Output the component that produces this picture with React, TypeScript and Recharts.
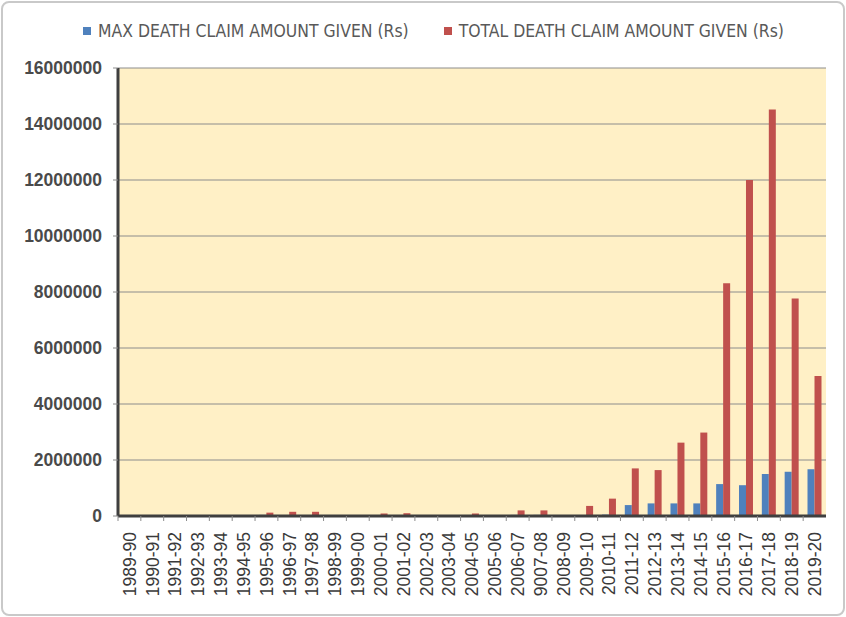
import React from 'react';
import {
  BarChart,
  Bar,
  XAxis,
  YAxis,
  CartesianGrid,
  Legend,
} from 'recharts';

const years = [
  '1989-90', '1990-91', '1991-92', '1992-93', '1993-94', '1994-95', '1995-96',
  '1996-97', '1997-98', '1998-99', '1999-00', '2000-01', '2001-02', '2002-03',
  '2003-04', '2004-05', '2005-06', '2006-07', '9007-08', '2008-09', '2009-10',
  '2010-11', '2011-12', '2012-13', '2013-14', '2014-15', '2015-16', '2016-17',
  '2017-18', '2018-19', '2019-20',
];

const maxClaim = [
  0, 0, 0, 0, 0, 0, 40000,
  30000, 30000, 0, 0, 30000, 30000, 0,
  0, 30000, 15000, 40000, 40000, 15000, 30000,
  50000, 390000, 450000, 450000, 450000, 1140000, 1100000,
  1500000, 1580000, 1670000,
];

const totalClaim = [
  0, 0, 0, 0, 0, 0, 120000,
  150000, 150000, 0, 0, 90000, 100000, 0,
  0, 90000, 30000, 200000, 200000, 30000, 360000,
  620000, 1700000, 1640000, 2620000, 2980000, 8310000, 12000000,
  14520000, 7770000, 5000000,
];

const yTicks = [0, 2000000, 4000000, 6000000, 8000000, 10000000, 12000000, 14000000, 16000000];

const seriesNames = ['MAX DEATH CLAIM AMOUNT GIVEN (Rs)', 'TOTAL DEATH CLAIM AMOUNT GIVEN (Rs)'];
const BLUE = '#4F81BD';
const RED = '#C0504D';
const FRAME = '#3f3f3f';

const data = years.map((year, i) => ({
  year,
  max: maxClaim[i],
  total: totalClaim[i],
}));

const tickFont = '"Liberation Sans", Arial, sans-serif';

const YearTick = (props: any) => {
  const { x, y, payload } = props;
  const off = payload && payload.offset ? payload.offset : 0;
  const axisY = y - 16;
  return (
    <g>
      {off ? (
        <line x1={x - off} y1={axisY} x2={x - off} y2={axisY + 5} stroke="#8c8c8c" />
      ) : null}
      <g transform={`translate(${x},${y})`}>
        <text
          transform="rotate(-90)"
          textAnchor="end"
          dy="0.36em"
          fill="#3a3a3a"
          fontSize={17.5}
          fontFamily={tickFont}
        >
          {payload.value}
        </text>
      </g>
    </g>
  );
};

const LegendBox = () => (
  <div
    style={{
      display: 'flex',
      justifyContent: 'flex-start',
      alignItems: 'center',
      fontFamily: '"Liberation Sans Narrow", "DejaVu Sans Condensed", Arial, sans-serif',
      fontSize: 17.4,
      color: '#595959',
      paddingLeft: 83,
    }}
  >
    {seriesNames.map((name, i) => (
      <span key={name} style={{ display: 'flex', alignItems: 'center', marginRight: i === 0 ? 35 : 0 }}>
        <span style={{ width: 8, height: 8, background: i === 0 ? BLUE : RED, marginRight: 7 }} />
        {name}
      </span>
    ))}
  </div>
);

export default function App() {
  return (
    <div style={{ position: 'absolute', left: 0, top: 0, width: 846, height: 617, background: '#fff' }}>
      <div
        style={{
          position: 'absolute',
          left: 1,
          top: 1,
          width: 844,
          height: 615,
          boxSizing: 'border-box',
          border: '2px solid #c9c9c9',
          borderRadius: 8,
        }}
      />
      <BarChart
        width={846}
        height={617}
        data={data}
        margin={{ top: 68, right: 20, bottom: 0, left: 0 }}
        barGap={0}
        barCategoryGap="19%"
        style={{ position: 'absolute', left: 0, top: 0 }}
      >
        <CartesianGrid vertical={false} stroke="#8c8c8c" fill="#FFF0C6" fillOpacity={1} />
        <XAxis
          dataKey="year"
          interval={0}
          height={101}
          tickLine={false}
          tickMargin={10}
          axisLine={{ stroke: FRAME, strokeWidth: 3 }}
          tick={<YearTick />}
        />
        <XAxis
          xAxisId="top"
          dataKey="year"
          orientation="top"
          height={0}
          tick={false}
          tickLine={false}
          axisLine={{ stroke: FRAME, strokeWidth: 3 }}
        />
        <YAxis
          width={118}
          domain={[0, 16000000]}
          ticks={yTicks}
          interval={0}
          tickSize={5}
          tickMargin={11}
          tickLine={{ stroke: '#8c8c8c' }}
          axisLine={{ stroke: FRAME, strokeWidth: 3 }}
          tick={{ fill: '#4a4a4a', fontSize: 17.5, fontWeight: 'bold', fontFamily: tickFont }}
        />
        <YAxis
          yAxisId="right"
          orientation="right"
          width={0}
          tick={false}
          tickLine={false}
          axisLine={{ stroke: FRAME, strokeWidth: 3 }}
        />
        <Legend
          verticalAlign="middle"
          align="center"
          layout="horizontal"
          wrapperStyle={{ top: 21, left: 0, width: 846 }}
          content={<LegendBox />}
        />
        <Bar dataKey="max" name={seriesNames[0]} fill={BLUE} isAnimationActive={false} />
        <Bar dataKey="total" name={seriesNames[1]} fill={RED} isAnimationActive={false} />
      </BarChart>
    </div>
  );
}
